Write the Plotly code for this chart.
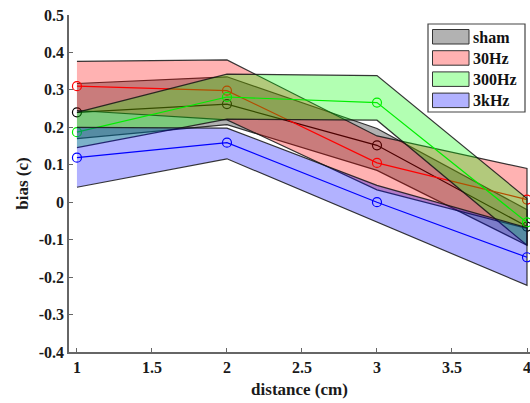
import plotly.graph_objects as go

# distance (cm) at which the bias was measured
distance = [1, 2, 3, 4]

# condition names, in drawing order
conditions = ["sham", "30Hz", "300Hz", "3kHz"]

# mean bias per condition
sham_mean = [0.240, 0.262, 0.152, -0.065]
hz30_mean = [0.310, 0.298, 0.105, 0.007]
hz300_mean = [0.187, 0.281, 0.266, -0.054]
khz3_mean = [0.119, 0.159, 0.000, -0.147]

# upper / lower edge of the shaded band per condition
sham_hi = [0.317, 0.335, 0.197, -0.020]
sham_lo = [0.170, 0.207, 0.085, -0.115]
hz30_hi = [0.376, 0.380, 0.177, 0.090]
hz30_lo = [0.245, 0.220, 0.033, -0.070]
hz300_hi = [0.240, 0.342, 0.338, 0.010]
hz300_lo = [0.146, 0.222, 0.219, -0.115]
khz3_hi = [0.200, 0.198, 0.045, -0.068]
khz3_lo = [0.040, 0.116, -0.052, -0.222]

# axis ticks
x_ticks = [1, 1.5, 2, 2.5, 3, 3.5, 4]
x_tick_text = ["1", "1.5", "2", "2.5", "3", "3.5", "4"]
y_ticks = [0.5, 0.4, 0.3, 0.2, 0.1, 0, -0.1, -0.2, -0.3, -0.4]
y_tick_text = ["0.5", "0.4", "0.3", "0.2", "0.1", "0", "-0.1", "-0.2", "-0.3", "-0.4"]

means = [sham_mean, hz30_mean, hz300_mean, khz3_mean]
highs = [sham_hi, hz30_hi, hz300_hi, khz3_hi]
lows = [sham_lo, hz30_lo, hz300_lo, khz3_lo]

line_colors = ["#000000", "#ff0000", "#00ee00", "#0000ff"]
fill_colors = ["rgba(0,0,0,0.3)", "rgba(255,0,0,0.3)",
               "rgba(0,255,0,0.3)", "rgba(0,0,255,0.3)"]

W, H = 530, 403
M_L, M_R, M_T, M_B = 69, 0, 15, 51
FONT = "Liberation Serif"

fig = go.Figure()

for name, m, hi, lo, lc, fc in zip(conditions, means, highs, lows,
                                   line_colors, fill_colors):
    # shaded band: upper edge left to right, lower edge back
    fig.add_trace(go.Scatter(
        x=distance + distance[::-1],
        y=hi + lo[::-1],
        fill="toself",
        fillcolor=fc,
        mode="lines",
        line=dict(color="rgba(20,20,20,0.85)", width=1.2),
        name=name,
        showlegend=False,
        hoverinfo="skip",
    ))
    # mean line with open circle markers
    fig.add_trace(go.Scatter(
        x=distance,
        y=m,
        mode="lines+markers",
        line=dict(color=lc, width=1.2),
        marker=dict(symbol="circle-open", size=9, color=lc,
                    line=dict(width=1.2, color=lc)),
        name=name,
        showlegend=False,
    ))

# legend box (paper coordinates from pixel positions)
plot_w = W - M_L - M_R
plot_h = H - M_T - M_B


def px_x(p):
    return (p - M_L) / plot_w


def px_y(p):
    return (H - M_B - p) / plot_h


shapes = [dict(type="rect", xref="paper", yref="paper",
               x0=px_x(428), x1=px_x(525), y0=px_y(112), y1=px_y(24),
               fillcolor="white", line=dict(color="#444", width=1.2),
               layer="above")]
annotations = []
row_top = 29.5
row_step = 21.2
for i, (name, fc) in enumerate(zip(conditions, fill_colors)):
    top = row_top + i * row_step
    shapes.append(dict(type="rect", xref="paper", yref="paper",
                       x0=px_x(432.5), x1=px_x(469),
                       y0=px_y(top + 14.5), y1=px_y(top),
                       fillcolor=fc, line=dict(color="#333", width=1),
                       layer="above"))
    annotations.append(dict(xref="paper", yref="paper",
                            x=px_x(470.5), y=px_y(top + 7.5),
                            text="<b>%s</b>" % name, showarrow=False,
                            xanchor="left", yanchor="middle",
                            font=dict(family=FONT, size=16, color="#111")))

axis_color = "#666666"
tick_font = dict(family=FONT, size=16, color="#1a1a1a", weight="bold")
title_font = dict(family=FONT, size=17, color="#1a1a1a")

fig.update_layout(
    width=W, height=H,
    margin=dict(l=M_L, r=M_R, t=M_T, b=M_B, pad=0),
    paper_bgcolor="white", plot_bgcolor="white",
    showlegend=False,
    shapes=shapes,
    annotations=annotations,
    xaxis=dict(
        range=[0.947, 1 + (plot_w - 8) / 150.0],
        tickvals=x_ticks, ticktext=x_tick_text,
        ticks="inside", ticklen=4, tickwidth=1, tickcolor=axis_color,
        showline=True, linecolor=axis_color, linewidth=1.5,
        showgrid=False, zeroline=False,
        tickfont=tick_font, ticklabeloverflow="allow",
        title=dict(text="<b>distance (cm)</b>", standoff=8, font=title_font),
    ),
    yaxis=dict(
        range=[-0.4, 0.5],
        tickvals=y_ticks, ticktext=y_tick_text,
        ticks="inside", ticklen=4, tickwidth=1, tickcolor=axis_color,
        showline=True, linecolor=axis_color, linewidth=1.5,
        showgrid=False, zeroline=False,
        tickfont=tick_font, ticklabeloverflow="allow",
        title=dict(text="<b>bias (c)</b>", standoff=6, font=title_font),
    ),
)

fig.write_html("out.html")
